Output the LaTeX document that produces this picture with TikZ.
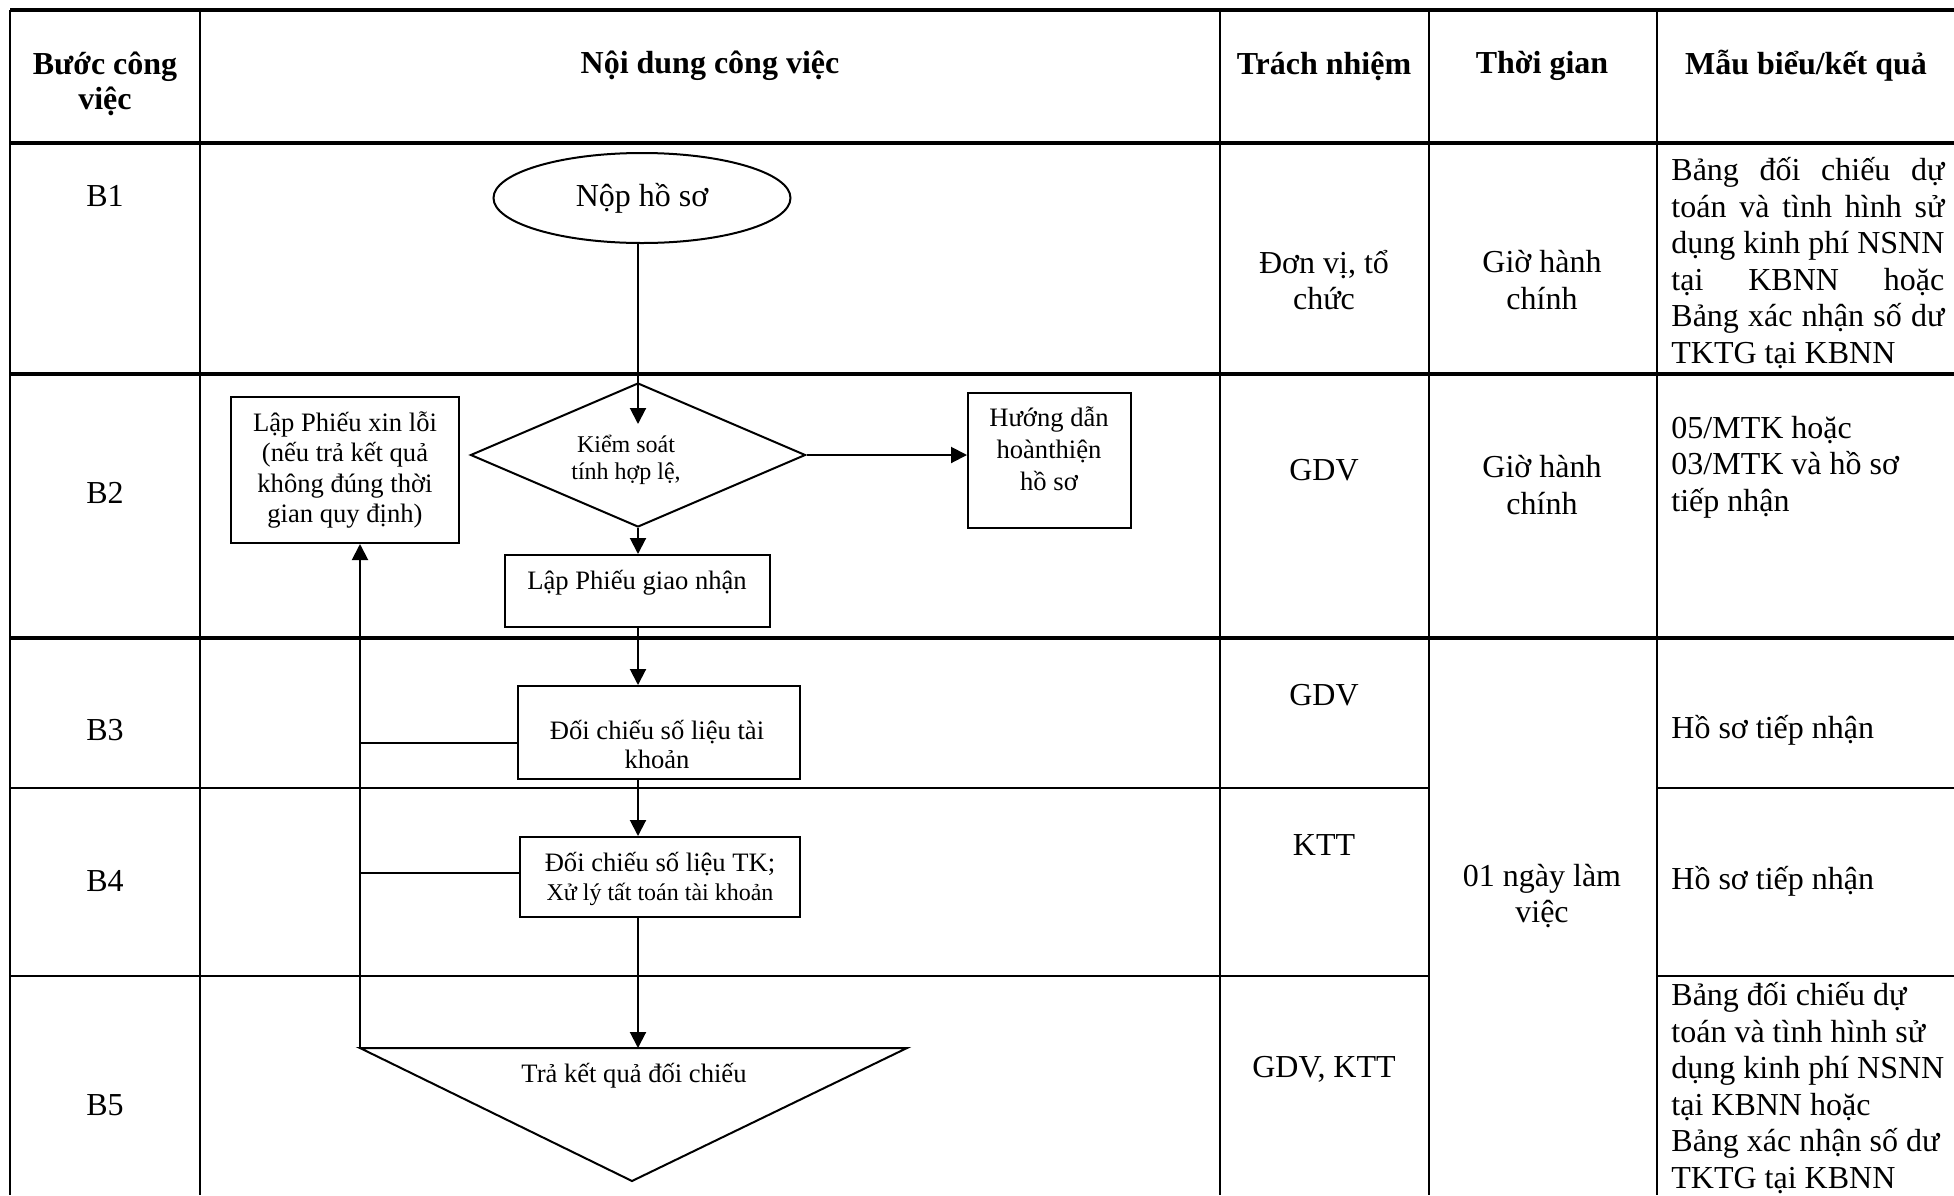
\documentclass[tikz,border=0pt]{standalone}
\usepackage{fontspec}
\setmainfont{Liberation Serif}
\usetikzlibrary{shapes.geometric,arrows.meta,calc}
\begin{document}
\begin{tikzpicture}[x=0.5pt,y=-0.5pt,
  tline/.style={line width=1.6pt},
  mline/.style={line width=1.2pt},
  vline/.style={line width=1pt},
  hdr/.style={font=\bfseries\fontsize{16}{17.5}\selectfont, align=center, inner sep=0pt},
  cell/.style={font=\fontsize{16}{18.3}\selectfont, align=center, inner sep=0pt},
  lcell/.style={font=\fontsize{16}{18.3}\selectfont, align=left, inner sep=0pt, anchor=west},
  fbox/.style={draw, line width=1pt, rectangle, inner sep=0pt},
  ftext/.style={font=\fontsize{13.3}{15.3}\selectfont, align=center, inner sep=0pt},
  arr/.style={line width=1pt, -{Triangle[length=8pt,width=8pt]}},
  conn/.style={line width=1pt}
]
\useasboundingbox (0,0) rectangle (1954,1195);
% table grid
\draw[tline] (10,10) -- (1954,10);
\draw[tline] (10,143) -- (1954,143);
\draw[tline] (10,374) -- (1954,374);
\draw[tline] (10,638) -- (1954,638);
\draw[mline] (10,788) -- (1429,788);
\draw[mline] (1657,788) -- (1954,788);
\draw[mline] (10,976) -- (1429,976);
\draw[mline] (1657,976) -- (1954,976);
\foreach \x in {10,200,1220,1429,1657} \draw[vline] (\x,10) -- (\x,1195);
% header
\node[hdr] (h1) at (105,83.5) {Bước công\\việc};
\node[hdr] (h2) at (710,66) {Nội dung công việc};
\node[hdr] (h3) at (1324,66) {Trách nhiệm};
\node[hdr] (h4) at (1542,66) {Thời gian};
\node[hdr] (h5) at (1806,66) {Mẫu biểu/kết quả};
% steps
\node[cell] (s1) at (105,196) {B1};
\node[cell] (s2) at (105,493) {B2};
\node[cell] (s3) at (105,730) {B3};
\node[cell] (s4) at (105,881) {B4};
\node[cell] (s5) at (105,1105) {B5};
% responsibility
\node[cell] (r1) at (1324,280) {Đơn vị, tổ\\chức};
\node[cell] (r2) at (1324,470) {GDV};
\node[cell] (r3) at (1324,695) {GDV};
\node[cell] (r4) at (1324,845) {KTT};
\node[cell] (r5) at (1324,1069) {GDV, KTT};
% time
\node[cell] (t1) at (1542,280) {Giờ hành\\chính};
\node[cell] (t2) at (1542,485) {Giờ hành\\chính};
\node[cell] (t3) at (1542,896) {01 ngày làm\\việc};
% results
\node[lcell] (m1) at (1671,263) {\makebox[136.5pt][s]{Bảng đối chiếu dự}\\\makebox[136.5pt][s]{toán và tình hình sử}\\\makebox[136.5pt][s]{dụng kinh phí NSNN}\\\makebox[136.5pt][s]{tại KBNN hoặc}\\\makebox[136.5pt][s]{Bảng xác nhận số dư}\\TKTG tại KBNN};
\node[lcell] (m2) at (1671,467) {05/MTK hoặc\\03/MTK và hồ sơ\\tiếp nhận};
\node[lcell] (m3) at (1671,730) {Hồ sơ tiếp nhận};
\node[lcell] (m4) at (1671,881) {Hồ sơ tiếp nhận};
\node[lcell] (m5) at (1671,1088) {Bảng đối chiếu dự\\toán và tình hình sử\\dụng kinh phí NSNN\\tại KBNN hoặc\\Bảng xác nhận số dư\\TKTG tại KBNN};
% flowchart
\node[draw, ellipse, line width=1pt, minimum width=148.5pt, minimum height=45pt, inner sep=0pt, font=\fontsize{16}{18}\selectfont] (np) at (642,198) {Nộp hồ sơ};
\node[draw, diamond, aspect=2.33, line width=1pt, minimum width=167.5pt, minimum height=72pt, inner sep=0pt] (ks) at (638,455) {};
\node[font=\fontsize{12}{13.3}\selectfont, align=center, inner sep=0pt] (kst) at (626,460) {Kiểm soát\\tính hợp lệ,};
\coordinate (kstip) at (638,424);
\node[fbox, ftext, minimum width=114pt, minimum height=73pt] (xl) at (345,470) {Lập Phiếu xin lỗi\\(nếu trả kết quả\\không đúng thời\\gian quy định)};
\node[fbox, minimum width=81.5pt, minimum height=67.5pt] (hdb) at (1049.5,460.5) {};
\node[ftext, font=\fontsize{13.3}{16}\selectfont] (hdt) at (1049,449) {Hướng dẫn\\hoànthiện\\hồ sơ};
\node[fbox, minimum width=132.5pt, minimum height=36pt] (gn) at (637.5,591) {};
\node[ftext] (gnt) at (637,583) {Lập Phiếu giao nhận};
\node[fbox, minimum width=141pt, minimum height=46.5pt] (b3) at (659,732.5) {};
\node[ftext, font=\fontsize{13.3}{14.5}\selectfont] (b3t) at (657,744) {Đối chiếu số liệu tài\\khoản};
\node[fbox, minimum width=140pt, minimum height=40pt] (b4) at (660,877) {};
\node[ftext, font=\fontsize{13.3}{14.5}\selectfont] (b4t) at (660,879) {Đối chiếu số liệu TK;\\{\fontsize{12}{14.5}\selectfont Xử lý tất toán tài khoản}};
\coordinate (tl) at (360,1048);
\coordinate (tr) at (907,1048);
\coordinate (tb) at (632,1181);
\draw[line width=1pt] (tl) -- (tr) -- (tb) -- cycle;
\node[ftext] (trt) at (634,1076) {Trả kết quả đối chiếu};
% connectors
\draw[arr] (np.south -| ks.north) -- (kstip);
\draw[arr] (ks.east) -- (ks.east -| hdb.west);
\draw[arr] (ks.south) -- (gn.north -| ks.south);
\draw[arr] (gn.south -| ks.north) -- (b3.north -| ks.north);
\draw[arr] (b3.south -| ks.north) -- (b4.north -| ks.north);
\draw[arr] (b4.south -| ks.north) -- (tl -| ks.north);
\draw[arr] (tl) -- (xl.south -| tl);
\draw[conn] ([yshift=-5.25pt]b3.west) -- ([yshift=-5.25pt]b3.west -| tl);
\draw[conn] ([yshift=2pt]b4.west) -- ([yshift=2pt]b4.west -| tl);
\end{tikzpicture}
\end{document}
